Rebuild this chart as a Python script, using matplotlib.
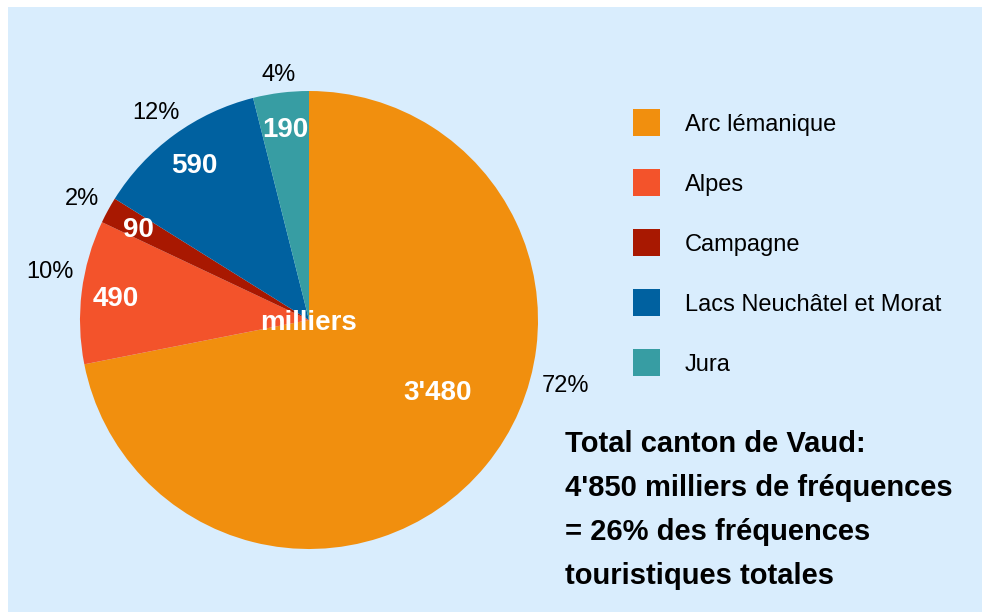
import numpy as np
import matplotlib.pyplot as plt
from matplotlib.patches import Rectangle

# Data
regions = ['Arc lémanique', 'Alpes', 'Campagne', 'Lacs Neuchâtel et Morat', 'Jura']
values = [3480, 490, 90, 590, 190]
value_labels = ["3'480", '490', '90', '590', '190']
colors = ['#f18f0e', '#f3532b', '#a81801', '#0061a0', '#379da3']
total_lines = ['Total canton de Vaud:',
               "4'850 milliers de fréquences",
               '= 26% des fréquences',
               'touristiques totales']

plt.rcParams['font.family'] = ['Liberation Sans', 'DejaVu Sans']
bg = '#d9edfd'
W, H = 982, 612

fig = plt.figure(figsize=(W / 100, H / 100), dpi=100, facecolor='white')
fig.patches.append(Rectangle((8 / W, 0), 1 - 8 / W, (H - 7) / H,
                             transform=fig.transFigure, facecolor=bg,
                             edgecolor='none', zorder=-10))

# Pie axes (centre ~ (309, 320) px, radius ~229 px)
cx, cy, r = 309, 320, 229
ax = fig.add_axes([(cx - r) / W, (H - cy - r) / H, 2 * r / W, 2 * r / H])
wedges, _ = ax.pie(values, colors=colors, startangle=90, counterclock=False,
                   radius=1, wedgeprops=dict(linewidth=0))
ax.set_xlim(-1, 1)
ax.set_ylim(-1, 1)
ax.axis('off')

fig.canvas.draw()
renderer = fig.canvas.get_renderer()

total = sum(values)
gap = 10  # px between circle and outer labels
# label angle tweaks (deg) where the original nudged them
val_angle = {0: -28.7}
val_dist = {0: 0.64}
pct_angle = {0: -14.0, 1: 169.0}
for i, w in enumerate(wedges):
    mid = (w.theta1 + w.theta2) / 2
    a = np.deg2rad(val_angle.get(i, mid))
    d = val_dist.get(i, 0.85)
    ax.text(d * np.cos(a), d * np.sin(a), value_labels[i],
            color='white', fontsize=20, fontweight='bold',
            ha='center', va='center_baseline')

    pct = '%d%%' % round(100 * values[i] / total)
    a = np.deg2rad(pct_angle.get(i, mid))
    t = ax.text(0, 0, pct, color='black', fontsize=17,
                ha='center', va='center_baseline')
    bb = t.get_window_extent(renderer)
    hw, hh = bb.width / 2, 8.5
    dist = (r + gap + hw * abs(np.cos(a)) + hh * abs(np.sin(a))) / r
    t.set_position((dist * np.cos(a), dist * np.sin(a)))

ax.text(0, 0.0, 'milliers', color='white', fontsize=20, fontweight='bold',
        ha='center', va='center_baseline')

# Legend
for i, (name, c) in enumerate(zip(regions, colors)):
    yc = 122.5 + 60 * i
    fig.patches.append(Rectangle((633 / W, (H - yc - 13.5) / H), 27 / W, 27 / H,
                                 transform=fig.transFigure, facecolor=c,
                                 edgecolor='none'))
    fig.text(685 / W, (H - yc) / H, name, fontsize=17, ha='left',
             va='center_baseline')

# Total text
for k, line in enumerate(total_lines):
    yb = 452 + 44 * k
    fig.text(565 / W, (H - yb) / H, line, fontsize=21, fontweight='bold',
             ha='left', va='baseline')

fig.savefig('out.png', dpi=100, facecolor=fig.get_facecolor())
